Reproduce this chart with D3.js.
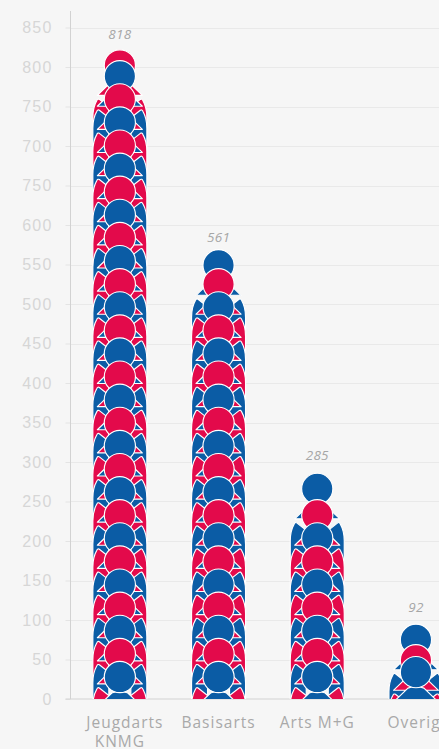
<!DOCTYPE html>
<html>
<head>
<meta charset="utf-8">
<script src="https://cdn.jsdelivr.net/npm/d3@7"></script>
<style>
html, body { margin: 0; padding: 0; background: #f6f6f6; overflow: hidden; }
svg { display: block; font-family: "Open Sans", sans-serif; }
</style>
</head>
<body>
<div class="chart"></div>
<script>
// chart values
var categories = ["Jeugdarts KNMG", "Basisarts", "Arts M+G", "Overige"];
var valueLabels = [818, 561, 285, 92];
// people stacked at a regular distance, then the squeezed ones on top
var stackCounts = [27, 18, 8, 0];
var topHeads = [[802], [549], [266], [34, 49, 75]];
var firstHead = 27.8;
var headStep = 29.25;

var tickValues = [0, 50, 100, 150, 200, 250, 300, 350, 400, 450, 500, 550, 600, 650, 700, 750, 800, 850];
// the source really prints 750 at the 650 line
var tickLabels = ["0", "50", "100", "150", "200", "250", "300", "350", "400", "450", "500", "550", "600", "750", "700", "750", "800", "850"];

var colors = ["#0b5ca5", "#e30a4b"];

var svgWidth = 439;
var svgHeight = 749;
var margin = { top: 11, left: 70.5, bottom: 50 };

var svg = d3.select(".chart").append("svg")
    .attr("width", svgWidth)
    .attr("height", svgHeight);

var yScale = d3.scaleLinear()
    .domain([0, 850])
    .range([699, 27.5]);

var xScale = d3.scaleBand()
    .domain(categories)
    .range([margin.left, margin.left + 98.7 * 4]);

// grid
svg.append("g").selectAll("line")
    .data(tickValues.slice(1))
    .enter().append("line")
    .attr("x1", margin.left)
    .attr("x2", svgWidth)
    .attr("y1", d => Math.round(yScale(d)) + 0.5)
    .attr("y2", d => Math.round(yScale(d)) + 0.5)
    .attr("stroke", "#e9e9e9")
    .attr("stroke-width", 1);

// y axis
var yAxis = d3.axisLeft(yScale)
    .tickValues(tickValues)
    .tickSize(5)
    .tickPadding(13)
    .tickFormat((d, i) => tickLabels[i]);

var yGroup = svg.append("g")
    .attr("transform", `translate(${margin.left}, 0)`)
    .call(yAxis);
yGroup.select(".domain").remove();
yGroup.selectAll(".tick line").attr("stroke", "#e4e4e4");
yGroup.selectAll(".tick text")
    .attr("fill", "#d6d6d6")
    .style("font-size", "16px")
    .style("letter-spacing", "1.2px");

svg.append("line")
    .attr("x1", margin.left).attr("x2", margin.left)
    .attr("y1", margin.top).attr("y2", yScale(0))
    .attr("stroke", "#d2d2d2");

svg.append("line")
    .attr("x1", margin.left - 5).attr("x2", svgWidth)
    .attr("y1", yScale(0)).attr("y2", yScale(0))
    .attr("stroke", "#d2d2d2");

svg.append("clipPath").attr("id", "plot")
    .append("rect")
    .attr("x", 0).attr("y", 0)
    .attr("width", svgWidth).attr("height", yScale(0));

// person icon, drawn around the centre of the head
var chestPath = "M-22.5,30 L-8,16 Q0,13 8,16 L22.5,30 Z";
var leftWing = "M-11,41.5 L-20.5,34 Q-22,33 -23,35 Q-27,42 -27,52 L-27,74 L-11,74 Z";
var rightWing = "M11,41.5 L20.5,34 Q22,33 23,35 Q27,42 27,52 L27,74 L11,74 Z";

var people = svg.append("g").attr("clip-path", "url(#plot)");

categories.forEach(function (cat, c) {
    var heads = d3.range(stackCounts[c]).map(i => firstHead + i * headStep).concat(topHeads[c]);
    var rows = heads.map((v, i) => ({ value: v, color: colors[i % 2] })).reverse();

    var persons = people.append("g").selectAll("g")
        .data(rows)
        .enter().append("g")
        .attr("transform", d => `translate(${xScale(cat) + xScale.bandwidth() / 2}, ${yScale(d.value)})`)
        .attr("fill", d => d.color)
        .attr("stroke", "#fff")
        .attr("stroke-width", 1.15)
        .attr("stroke-linejoin", "round");

    persons.append("path").attr("d", leftWing);
    persons.append("path").attr("d", rightWing);
    persons.append("path").attr("d", chestPath);
    persons.append("circle").attr("r", 15.6);
});

// value labels
svg.append("g").selectAll("text")
    .data(valueLabels)
    .enter().append("text")
    .attr("x", (d, i) => xScale(categories[i]) + xScale.bandwidth() / 2)
    .attr("y", d => yScale(d) - 14)
    .attr("text-anchor", "middle")
    .attr("fill", "#a6a6a6")
    .style("font-size", "13.5px")
    .style("font-style", "italic")
    .style("letter-spacing", "0.3px")
    .text(d => d);

// category labels
var labelShift = { "Jeugdarts": 5, "Overige": 3 };
var xLabels = svg.append("g").selectAll("text")
    .data(categories)
    .enter().append("text")
    .attr("text-anchor", "middle")
    .attr("fill", "#a9a9a9")
    .style("font-size", "15.5px")
    .style("letter-spacing", "1px");

xLabels.each(function (d) {
    var parts = d === "Jeugdarts KNMG" ? ["Jeugdarts", "KNMG"] : [d];
    d3.select(this).selectAll("tspan")
        .data(parts)
        .enter().append("tspan")
        .attr("x", p => xScale(d) + xScale.bandwidth() / 2 + (labelShift[p] || 0))
        .attr("y", (p, i) => 728 + i * 19)
        .text(p => p);
});
</script>
</body>
</html>
